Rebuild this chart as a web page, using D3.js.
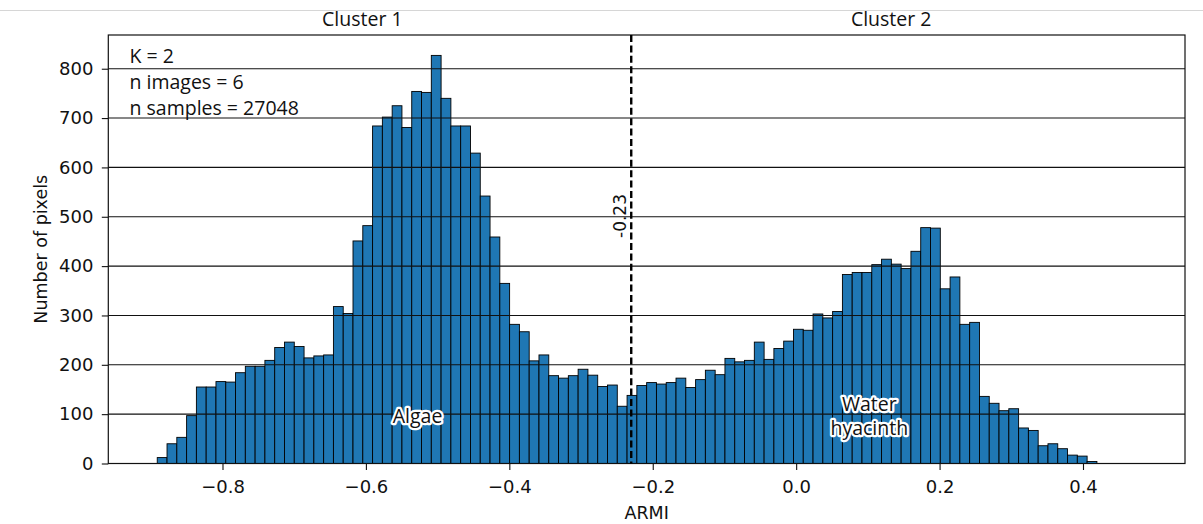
<!DOCTYPE html>
<html>
<head>
<meta charset="utf-8">
<script src="https://cdn.jsdelivr.net/npm/d3@7"></script>
<style>
  body { margin: 0; background: #fff; }
  svg { display: block; }
</style>
</head>
<body>
<svg id="chart" width="1203" height="524"></svg>
<script>
// ARMI histogram: 100 equal-width bins
const binStart = -0.891;
const binWidth = 0.01365;
const counts = [
  12, 40, 53, 97, 155, 155, 166, 165, 184, 197,
  197, 209, 235, 246, 237, 214, 218, 220, 318, 304,
  451, 482, 684, 702, 725, 681, 754, 752, 827, 740,
  684, 684, 629, 542, 459, 365, 282, 267, 208, 220,
  178, 173, 178, 191, 179, 156, 159, 116, 138, 158,
  164, 161, 164, 173, 154, 170, 189, 180, 213, 206,
  209, 246, 211, 233, 248, 272, 270, 303, 295, 308,
  383, 387, 387, 403, 414, 404, 395, 430, 478, 477,
  354, 378, 282, 286, 136, 122, 107, 111, 72, 67,
  36, 40, 30, 17, 15, 4, 0, 0, 0, 0
];
const xTicks = [-0.8, -0.6, -0.4, -0.2, 0.0, 0.2, 0.4];
const yTicks = [0, 100, 200, 300, 400, 500, 600, 700, 800];
const thresholdValue = -0.23;
const thresholdText = "-0.23";
const clusterNames = ["Cluster 1", "Cluster 2"];
const clusterCenters = [-0.605, 0.1325];
const infoLines = ["K = 2", "n images = 6", "n samples = 27048"];
const classNames = [["Algae"], ["Water", "hyacinth"]];
const classCenters = [-0.528, 0.102];
const xLabel = "ARMI";
const yLabel = "Number of pixels";

// layout
const W = 1203, H = 524;
const plot = { left: 108.3, right: 1185, top: 35, bottom: 463.5 };
const tickFont = "'DejaVu Sans', sans-serif";
const noteFont = "'Open Sans', sans-serif";

const bins = counts.map((c, i) => ({
  x0: binStart + i * binWidth,
  x1: binStart + (i + 1) * binWidth,
  count: c
}));

const span = bins[bins.length - 1].x1 - bins[0].x0;
const x = d3.scaleLinear()
  .domain([bins[0].x0 - 0.05 * span, bins[bins.length - 1].x1 + 0.05 * span])
  .range([plot.left, plot.right]);
const y = d3.scaleLinear()
  .domain([0, d3.max(counts) * 1.05])
  .range([plot.bottom, plot.top]);

const svg = d3.select("#chart");
svg.append("rect").attr("width", W).attr("height", H).attr("fill", "#fff");

// faint rule along the top of the figure
svg.append("line")
  .attr("x1", 0).attr("x2", W).attr("y1", 10.5).attr("y2", 10.5)
  .attr("stroke", "#d6d6d6").attr("stroke-width", 1);

// bars (empty bins are skipped)
svg.append("g")
  .selectAll("rect")
  .data(bins.filter(d => d.count > 0))
  .join("rect")
  .attr("x", d => x(d.x0))
  .attr("y", d => y(d.count))
  .attr("width", d => x(d.x1) - x(d.x0))
  .attr("height", d => y(0) - y(d.count))
  .attr("fill", "#1f77b4")
  .attr("stroke", "#000")
  .attr("stroke-width", 0.9);

// horizontal grid drawn over the bars
svg.append("g")
  .selectAll("line")
  .data(yTicks.filter(v => v > 0))
  .join("line")
  .attr("x1", plot.left).attr("x2", plot.right)
  .attr("y1", d => y(d)).attr("y2", d => y(d))
  .attr("stroke", "#111").attr("stroke-width", 1.1);

// axes
const xAxis = svg.append("g")
  .attr("transform", `translate(0,${plot.bottom})`)
  .call(d3.axisBottom(x).tickValues(xTicks).tickFormat(d3.format(".1f"))
    .tickSize(6.5).tickPadding(10));
const yAxis = svg.append("g")
  .attr("transform", `translate(${plot.left},0)`)
  .call(d3.axisLeft(y).tickValues(yTicks).tickFormat(d3.format("d"))
    .tickSize(6.5).tickPadding(8.4));
[xAxis, yAxis].forEach(g => {
  g.select(".domain").remove();
  g.selectAll(".tick line").attr("stroke", "#111").attr("stroke-width", 1.1);
  g.selectAll(".tick text")
    .attr("font-family", tickFont).attr("font-size", 18).attr("fill", "#111");
});

// frame
svg.append("rect")
  .attr("x", plot.left).attr("y", plot.top)
  .attr("width", plot.right - plot.left).attr("height", plot.bottom - plot.top)
  .attr("fill", "none").attr("stroke", "#111").attr("stroke-width", 1.2);

// threshold between the two clusters
svg.append("line")
  .attr("x1", x(thresholdValue)).attr("x2", x(thresholdValue))
  .attr("y1", plot.top).attr("y2", plot.bottom)
  .attr("stroke", "#000").attr("stroke-width", 2.4)
  .attr("stroke-dasharray", "7,3.4");
svg.append("text")
  .attr("transform", `translate(${x(thresholdValue) - 5},216) rotate(-90)`)
  .attr("text-anchor", "middle")
  .attr("font-family", tickFont).attr("font-size", 17).attr("fill", "#111")
  .text(thresholdText);

// axis titles
svg.append("text")
  .attr("x", (plot.left + plot.right) / 2).attr("y", 519)
  .attr("text-anchor", "middle")
  .attr("font-family", tickFont).attr("font-size", 17.5).attr("fill", "#111")
  .text(xLabel);
svg.append("text")
  .attr("transform", `translate(47,${(plot.top + plot.bottom) / 2}) rotate(-90)`)
  .attr("text-anchor", "middle")
  .attr("font-family", tickFont).attr("font-size", 17.5).attr("fill", "#111")
  .text(yLabel);

// cluster headers
svg.append("g")
  .selectAll("text")
  .data(clusterNames)
  .join("text")
  .attr("x", (d, i) => x(clusterCenters[i])).attr("y", 26)
  .attr("text-anchor", "middle")
  .attr("font-family", noteFont).attr("font-size", 19.5).attr("fill", "#111")
  .text(d => d);

// run summary in the upper-left corner
svg.append("g")
  .selectAll("text")
  .data(infoLines)
  .join("text")
  .attr("x", 129.5).attr("y", (d, i) => 62.5 + i * 26.3)
  .attr("font-family", noteFont).attr("font-size", 19.5).attr("fill", "#111")
  .text(d => d);

// class names with a white halo
const baseY = [422.5, 410.5];
classNames.forEach((lines, k) => {
  const t = svg.append("text")
    .attr("x", x(classCenters[k])).attr("y", baseY[k])
    .attr("text-anchor", "middle")
    .attr("font-family", noteFont).attr("font-size", 19.5).attr("fill", "#111")
    .attr("stroke", "#fff").attr("stroke-width", 4.5)
    .attr("stroke-linejoin", "round").attr("paint-order", "stroke");
  lines.forEach((s, j) => {
    t.append("tspan")
      .attr("x", x(classCenters[k]))
      .attr("dy", j === 0 ? 0 : 24.5)
      .text(s);
  });
});
</script>
</body>
</html>
